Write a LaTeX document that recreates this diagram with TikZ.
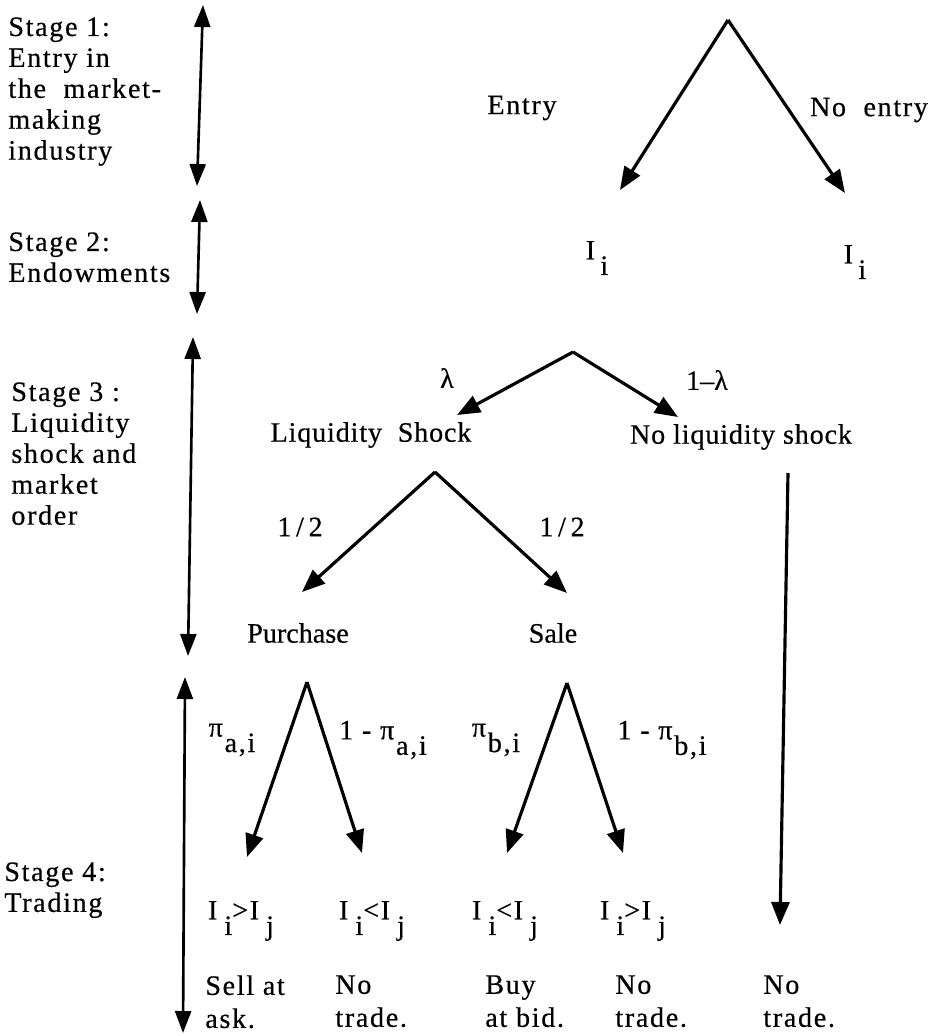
\documentclass[tikz,border=0pt]{standalone}
\usepackage{fontspec}
\setmainfont[FakeBold=0.5]{Liberation Serif}
\newfontfamily\widefont[LetterSpace=6, FakeBold=0.5]{Liberation Serif}
\newfontfamily\midfont[LetterSpace=3, FakeBold=0.5]{Liberation Serif}
\usetikzlibrary{arrows.meta}
\newcommand\subdown[1]{\raisebox{-0.55em}{#1}}

\begin{document}
\begin{tikzpicture}[x=0.02cm, y=-0.02cm,
    txt/.style={inner sep=0pt, font=\fontsize{16}{17.6}\widefont},
    midtxt/.style={inner sep=0pt, font=\fontsize{16}{17.6}\midfont},
    plain/.style={inner sep=0pt, font=\fontsize{16}{17.6}\selectfont},
    block/.style={txt, align=left, anchor=north west},
    branch/.style={line width=1.8pt, -{Triangle[length=0.46cm, width=0.36cm]}},
    span/.style={line width=1.5pt, {Triangle[length=0.44cm, width=0.32cm]}-{Triangle[length=0.44cm, width=0.32cm]}}]
\useasboundingbox (0,0) rectangle (934,1036);

% stages
\node[block] (stage1) at (8,17) {Stage 1:\\Entry in\\the~ market-\\making\\industry};
\node[block] (stage2) at (8,232) {Stage 2:\\Endowments};
\node[block] (stage3) at (11,382) {Stage 3 :\\Liquidity\\shock and\\market\\order};
\node[block] (stage4) at (4,862) {Stage 4:\\Trading};

\coordinate (s1top) at (203,5);   \coordinate (s1bot) at (197,186);
\coordinate (s2top) at (200,200); \coordinate (s2bot) at (197,314);
\coordinate (s3top) at (193,337); \coordinate (s3bot) at (188,656);
\coordinate (s4top) at (185,677); \coordinate (s4bot) at (183,1033);
\draw[span] (s1top) -- (s1bot);
\draw[span] (s2top) -- (s2bot);
\draw[span] (s3top) -- (s3bot);
\draw[span] (s4top) -- (s4bot);

% entry
\coordinate (root) at (728,20);
\coordinate (entryend) at (620,190);
\coordinate (noentryend) at (845,193);
\draw[branch] (root) -- (entryend);
\draw[branch] (root) -- (noentryend);
\node[txt] (entry) at (522,108) {Entry};
\node[txt] (noentry) at (869,110) {No~ entry};
\node[txt] (endowA) at (597,258) {I\kern3pt\subdown{i}};
\node[txt] (endowB) at (855,262) {I\kern3pt\subdown{i}};

% liquidity shock
\coordinate (shocktop) at (573,352);
\coordinate (shockend) at (457,415);
\coordinate (noshockend) at (678,417);
\draw[branch] (shocktop) -- (shockend);
\draw[branch] (shocktop) -- (noshockend);
\node[plain] (lam) at (447,378) {λ};
\node[plain] (notlam) at (707,380) {1–λ};
\node[midtxt] (liq) at (371,435) {Liquidity~ Shock};
\node[midtxt] (noliq) at (741,437) {No liquidity shock};

% market order
\coordinate (ordertop) at (435,472);
\coordinate (buyend) at (302,592);
\coordinate (sellend) at (567,593);
\draw[branch] (ordertop) -- (buyend);
\draw[branch] (ordertop) -- (sellend);
\node[txt] (halfA) at (300,527) {1\,/\,2};
\node[txt] (halfB) at (562,527) {1\,/\,2};
\node[plain] (purchase) at (298,633) {Purchase};
\node[plain] (sale) at (553,633) {Sale};

\coordinate (idletop) at (788,473);
\coordinate (idleend) at (780,925);
\draw[branch] (idletop) -- (idleend);

% trading
\coordinate (purchtop) at (307,682);
\coordinate (askend) at (247,857);
\coordinate (askno) at (362,853);
\coordinate (saletop) at (567,683);
\coordinate (bidend) at (507,853);
\coordinate (bidno) at (623,853);
\draw[branch] (purchtop) -- (askend);
\draw[branch] (purchtop) -- (askno);
\draw[branch] (saletop) -- (bidend);
\draw[branch] (saletop) -- (bidno);

\node[txt] (pa) at (232,740) {π\kern1pt\subdown{a,i}};
\node[txt] (qa) at (383,740) {1 - π\kern1pt\subdown{a,i}};
\node[txt] (pb) at (496,740) {π\kern1pt\subdown{b,i}};
\node[txt] (qb) at (662,740) {1 - π\kern1pt\subdown{b,i}};

\node[txt] (c1) at (241,921) {I\kern4pt\subdown{i}>I\kern4pt\subdown{j}};
\node[txt] (c2) at (372,921) {I\kern4pt\subdown{i}<I\kern4pt\subdown{j}};
\node[txt] (c3) at (505,921) {I\kern4pt\subdown{i}<I\kern4pt\subdown{j}};
\node[txt] (c4) at (633,921) {I\kern4pt\subdown{i}>I\kern4pt\subdown{j}};

\node[block, font=\fontsize{16}{18.8}\widefont] (out1) at (205,975) {Sell at\\ask.};
\node[block, font=\fontsize{16}{18.8}\widefont] (out2) at (335,975) {No\\trade.};
\node[block, font=\fontsize{16}{18.8}\widefont] (out3) at (485,975) {Buy\\at bid.};
\node[block, font=\fontsize{16}{18.8}\widefont] (out4) at (615,975) {No\\trade.};
\node[block, font=\fontsize{16}{18.8}\widefont] (out5) at (763,975) {No\\trade.};
\end{tikzpicture}
\end{document}
